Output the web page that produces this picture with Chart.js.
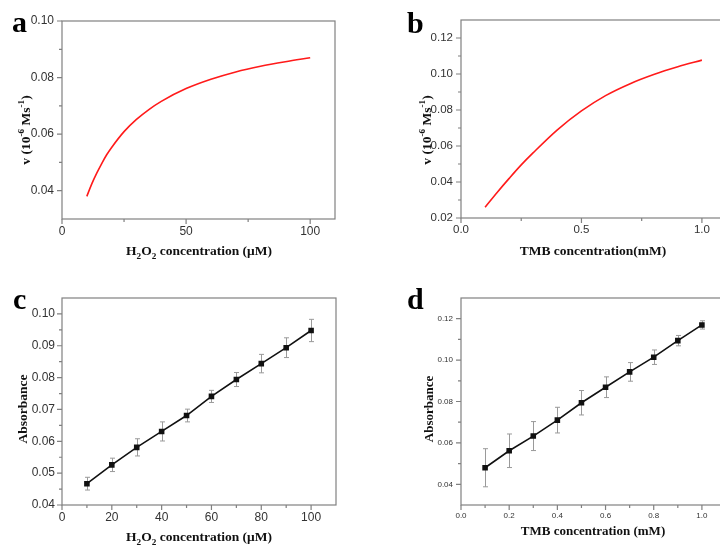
<!DOCTYPE html>
<html>
<head>
<meta charset="utf-8">
<script src="https://cdn.jsdelivr.net/npm/chart.js@4.4.1/dist/chart.umd.min.js"></script>
<style>
  html, body { margin: 0; padding: 0; background: #fff; width: 720px; height: 546px; overflow: hidden; }
  .panel { position: absolute; }
  canvas { display: block; }
</style>
</head>
<body>
<div class="panel" style="left:0;top:0"><canvas id="ca" width="360" height="276"></canvas></div>
<div class="panel" style="left:360px;top:0"><canvas id="cb" width="380" height="276"></canvas></div>
<div class="panel" style="left:0;top:276px"><canvas id="cc" width="360" height="270"></canvas></div>
<div class="panel" style="left:360px;top:276px"><canvas id="cd" width="380" height="270"></canvas></div>
<script>
// (a) rate vs H2O2, fitted curve
const h2o2Conc = [10, 12, 14, 16, 18, 20, 25, 30, 35, 40, 50, 60, 70, 80, 90, 100];
const h2o2Rate = [0.038, 0.0424, 0.0462, 0.0496, 0.0527, 0.0553, 0.0609, 0.0652, 0.0687, 0.0716,
                  0.0761, 0.0794, 0.082, 0.084, 0.0856, 0.087];
// (b) rate vs TMB, fitted curve
const tmbConc = [0.1, 0.15, 0.2, 0.25, 0.3, 0.4, 0.5, 0.6, 0.7, 0.8, 0.9, 1.0];
const tmbRate = [0.026, 0.0342, 0.042, 0.0495, 0.0563, 0.069, 0.0795, 0.088, 0.0945, 0.0997, 0.104, 0.1077];
// (c) absorbance vs H2O2
const calH2o2Conc = [10, 20, 30, 40, 50, 60, 70, 80, 90, 100];
const calH2o2Abs = [0.0467, 0.0526, 0.0581, 0.0631, 0.0681, 0.0741, 0.0794, 0.0844, 0.0894, 0.0948];
const calH2o2Err = [0.0020, 0.0021, 0.0027, 0.0030, 0.0020, 0.0019, 0.0022, 0.0029, 0.0031, 0.0035];
// (d) absorbance vs TMB
const calTmbConc = [0.1, 0.2, 0.3, 0.4, 0.5, 0.6, 0.7, 0.8, 0.9, 1.0];
const calTmbAbs = [0.048, 0.0562, 0.0633, 0.071, 0.0794, 0.0869, 0.0943, 0.1014, 0.1094, 0.117];
const calTmbErr = [0.0092, 0.0081, 0.0070, 0.0062, 0.0059, 0.0050, 0.0045, 0.0035, 0.0025, 0.0020];

// tick marks
const aXMajor = [0, 50, 100], aXMinor = [25, 75];
const aYMajor = [0.04, 0.06, 0.08, 0.10], aYMinor = [0.05, 0.07, 0.09];
const bXMajor = [0, 0.5, 1.0], bXMinor = [0.25, 0.75];
const bYMajor = [0.02, 0.04, 0.06, 0.08, 0.10, 0.12], bYMinor = [0.03, 0.05, 0.07, 0.09, 0.11];
const cXMajor = [0, 20, 40, 60, 80, 100], cXMinor = [10, 30, 50, 70, 90];
const cYMajor = [0.04, 0.05, 0.06, 0.07, 0.08, 0.09, 0.10], cYMinor = [0.045, 0.055, 0.065, 0.075, 0.085, 0.095];
const dXMajor = [0, 0.2, 0.4, 0.6, 0.8, 1.0], dXMinor = [0.1, 0.3, 0.5, 0.7, 0.9];
const dYMajor = [0.04, 0.06, 0.08, 0.10, 0.12], dYMinor = [0.05, 0.07, 0.09, 0.11];

const SERIF = '"Liberation Serif", "Times New Roman", serif';
const SANS = '"Liberation Sans", Arial, sans-serif';

// text with sub/superscript parts, centred at cx, baseline at cy
function drawRich(ctx, parts, cx, cy, size, vertical) {
  ctx.save();
  ctx.translate(cx, cy);
  if (vertical) ctx.rotate(-Math.PI / 2);
  const big = `bold ${size}px ${SERIF}`;
  const small = `bold ${size * 0.68}px ${SERIF}`;
  let total = 0;
  parts.forEach(p => {
    ctx.font = p.s ? small : big;
    p.w = ctx.measureText(p.t).width;
    total += p.w;
  });
  let x = -total / 2;
  ctx.fillStyle = '#111';
  ctx.textBaseline = 'alphabetic';
  parts.forEach(p => {
    ctx.font = p.s ? small : big;
    const dy = p.s === 'sub' ? size * 0.28 : p.s === 'sup' ? -size * 0.42 : 0;
    ctx.fillText(p.t, x, dy);
    x += p.w;
  });
  ctx.restore();
}

const h2o2Title = [{t: 'H'}, {t: '2', s: 'sub'}, {t: 'O'}, {t: '2', s: 'sub'}, {t: ' concentration (\u03bcM)'}];
const rateTitle = [{t: 'v (10'}, {t: '-6', s: 'sup'}, {t: ' Ms'}, {t: '-1', s: 'sup'}, {t: ')'}];

function makePanel(id, cfg) {
  const canvas = document.getElementById(id);
  const W = canvas.width, H = canvas.height;

  const framePlugin = {
    id: 'frame',
    beforeDatasetsDraw(chart) {
      if (!cfg.err) return;
      const {ctx, scales: {x, y}} = chart;
      ctx.save();
      ctx.strokeStyle = '#9a9a9a';
      ctx.lineWidth = 1;
      cfg.xs.forEach((v, i) => {
        const px = Math.round(x.getPixelForValue(v)) + 0.5;
        const y1 = y.getPixelForValue(cfg.ys[i] + cfg.err[i]);
        const y2 = y.getPixelForValue(cfg.ys[i] - cfg.err[i]);
        ctx.beginPath();
        ctx.moveTo(px, y1); ctx.lineTo(px, y2);
        ctx.moveTo(px - 2.5, y1); ctx.lineTo(px + 2.5, y1);
        ctx.moveTo(px - 2.5, y2); ctx.lineTo(px + 2.5, y2);
        ctx.stroke();
      });
      ctx.restore();
    },
    afterDraw(chart) {
      const {ctx, chartArea: a, scales: {x, y}} = chart;
      ctx.save();
      ctx.strokeStyle = '#808080';
      ctx.lineWidth = 1.2;
      ctx.strokeRect(a.left, a.top, a.right - a.left, a.bottom - a.top);
      ctx.beginPath();
      const tx = (v, len) => {
        const p = x.getPixelForValue(v);
        ctx.moveTo(p, a.bottom); ctx.lineTo(p, a.bottom + len);
      };
      const ty = (v, len) => {
        const p = y.getPixelForValue(v);
        ctx.moveTo(a.left, p); ctx.lineTo(a.left - len, p);
      };
      cfg.xMajor.forEach(v => tx(v, 5));
      cfg.xMinor.forEach(v => tx(v, 3));
      cfg.yMajor.forEach(v => ty(v, 5));
      cfg.yMinor.forEach(v => ty(v, 3));
      ctx.stroke();

      // panel letter
      ctx.fillStyle = '#000';
      ctx.font = `bold 30px ${SERIF}`;
      ctx.textBaseline = 'alphabetic';
      ctx.textAlign = 'left';
      ctx.fillText(cfg.letter, cfg.letterPos[0], cfg.letterPos[1]);
      ctx.restore();

      drawRich(ctx, cfg.xTitle, cfg.xTitlePos[0], cfg.xTitlePos[1], cfg.titleSize, false);
      drawRich(ctx, cfg.yTitle, cfg.yTitlePos[0], cfg.yTitlePos[1], cfg.titleSize, true);
    }
  };

  const points = cfg.xs.map((v, i) => ({x: v, y: cfg.ys[i]}));
  const tickFont = {family: SANS, size: cfg.tickSize};

  new Chart(canvas, {
    type: 'line',
    data: {
      datasets: [{
        data: points,
        borderColor: cfg.color,
        borderWidth: 1.6,
        backgroundColor: cfg.color,
        pointRadius: cfg.markers ? 2.8 : 0,
        pointStyle: 'rect',
        cubicInterpolationMode: cfg.markers ? 'default' : 'monotone',
        tension: cfg.markers ? 0 : 0.4,
        fill: false
      }]
    },
    options: {
      responsive: false,
      animation: false,
      layout: {padding: {left: 0, top: cfg.top, right: W - cfg.right, bottom: 0}},
      plugins: {legend: {display: false}, tooltip: {enabled: false}},
      scales: {
        x: {
          type: 'linear', min: cfg.xMin, max: cfg.xMax,
          grid: {display: false, drawTicks: false},
          border: {display: false},
          ticks: {font: tickFont, color: '#333', padding: cfg.xPad, maxRotation: 0,
                  callback: v => v.toFixed(cfg.xDec)},
          afterBuildTicks: s => { s.ticks = cfg.xMajor.map(v => ({value: v})); },
          afterFit: s => { s.height = H - cfg.bottom; }
        },
        y: {
          type: 'linear', min: cfg.yMin, max: cfg.yMax,
          grid: {display: false, drawTicks: false},
          border: {display: false},
          ticks: {font: tickFont, color: '#333', padding: cfg.yPad,
                  callback: v => v.toFixed(2)},
          afterBuildTicks: s => { s.ticks = cfg.yMajor.map(v => ({value: v})); },
          afterFit: s => { s.width = cfg.left; }
        }
      }
    },
    plugins: [framePlugin]
  });
}

makePanel('ca', {
  xs: h2o2Conc, ys: h2o2Rate, color: '#ff1a1a',
  xMin: 0, xMax: 110, yMin: 0.03, yMax: 0.10,
  xMajor: aXMajor, xMinor: aXMinor, yMajor: aYMajor, yMinor: aYMinor, xDec: 0,
  left: 62, right: 335, top: 21, bottom: 219,
  tickSize: 12, xPad: 5, yPad: 8, titleSize: 13.5,
  letter: 'a', letterPos: [12, 32],
  xTitle: h2o2Title, xTitlePos: [199, 255],
  yTitle: rateTitle, yTitlePos: [30, 130]
});

makePanel('cb', {
  xs: tmbConc, ys: tmbRate, color: '#ff1a1a',
  xMin: 0, xMax: 1.1, yMin: 0.02, yMax: 0.13,
  xMajor: bXMajor, xMinor: bXMinor, yMajor: bYMajor, yMinor: bYMinor, xDec: 1,
  left: 101, right: 366, top: 20, bottom: 218,
  tickSize: 11.5, xPad: 5, yPad: 8, titleSize: 13.5,
  letter: 'b', letterPos: [47, 33],
  xTitle: [{t: 'TMB concentration(mM)'}], xTitlePos: [233, 255],
  yTitle: rateTitle, yTitlePos: [71, 130]
});

makePanel('cc', {
  xs: calH2o2Conc, ys: calH2o2Abs, err: calH2o2Err, color: '#111', markers: true,
  xMin: 0, xMax: 110, yMin: 0.04, yMax: 0.105,
  xMajor: cXMajor, xMinor: cXMinor, yMajor: cYMajor, yMinor: cYMinor, xDec: 0,
  left: 62, right: 336, top: 22, bottom: 229,
  tickSize: 12, xPad: 5, yPad: 7, titleSize: 13.5,
  letter: 'c', letterPos: [13, 33],
  xTitle: h2o2Title, xTitlePos: [199, 265],
  yTitle: [{t: 'Absorbance'}], yTitlePos: [27, 133]
});

makePanel('cd', {
  xs: calTmbConc, ys: calTmbAbs, err: calTmbErr, color: '#111', markers: true,
  xMin: 0, xMax: 1.1, yMin: 0.03, yMax: 0.13,
  xMajor: dXMajor, xMinor: dXMinor, yMajor: dYMajor, yMinor: dYMinor, xDec: 1,
  left: 101, right: 366, top: 22, bottom: 229,
  tickSize: 8, xPad: 6, yPad: 8, titleSize: 13,
  letter: 'd', letterPos: [47, 33],
  xTitle: [{t: 'TMB concentration (mM)'}], xTitlePos: [233, 259],
  yTitle: [{t: 'Absorbance'}], yTitlePos: [73, 133]
});
</script>
</body>
</html>
